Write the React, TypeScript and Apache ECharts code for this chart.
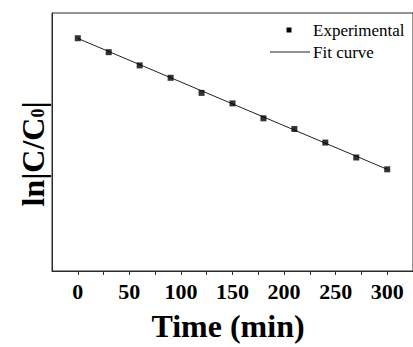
import React, { useEffect, useRef } from "react";
import * as echarts from "echarts";

const timeMin = [0, 30, 60, 90, 120, 150, 180, 210, 240, 270, 300];
const lnValues = [0.018, -0.055, -0.124, -0.189, -0.268, -0.323, -0.401, -0.457, -0.528, -0.606, -0.668];
const fitX = [0, 300];
const fitY = [0.017, -0.668];
const xTickLabels = [0, 50, 100, 150, 200, 250, 300];

const SERIF = "'Liberation Serif', 'Times New Roman', serif";

export default function App() {
  const ref = useRef<HTMLDivElement>(null);
  useEffect(() => {
    document.body.style.margin = "0";
    const chart = echarts.init(ref.current!, null, { renderer: "svg" });
    chart.setOption({
      animation: false,
      backgroundColor: "#ffffff",
      grid: {
        left: 52,
        top: 13,
        right: -2,
        bottom: 64,
        show: true,
        borderColor: "#2a2a2a",
        borderWidth: 1,
        backgroundColor: "transparent",
      },
      xAxis: {
        type: "value",
        min: -25,
        max: 325,
        interval: 25,
        name: "Time (min)",
        nameLocation: "middle",
        nameGap: 39,
        nameTextStyle: { fontFamily: SERIF, fontWeight: "bold", fontSize: 32, color: "#000", padding: [0, 9, 0, 0] },
        axisLine: { show: true, onZero: false, lineStyle: { color: "#2a2a2a", width: 1 } },
        axisTick: {
          show: true,
          length: 4,
          lineStyle: { color: "#2a2a2a", width: 1 },
        },
        axisLabel: {
          margin: 9,
          fontFamily: SERIF,
          fontWeight: "bold",
          fontSize: 22,
          color: "#000",
          showMinLabel: false,
          showMaxLabel: false,
          formatter: (v: number) => (xTickLabels.indexOf(v) >= 0 ? String(v) : ""),
        },
        splitLine: { show: false },
      },
      yAxis: {
        type: "value",
        min: -1.2,
        max: 0.15,
        name: "{a|ln|C/C}{b|0}{a||}",
        nameLocation: "middle",
        nameGap: 5,
        nameTextStyle: {
          padding: [0, 24, 0, 0],
          rich: {
            a: { fontFamily: SERIF, fontWeight: "bold", fontSize: 32, lineHeight: 30, verticalAlign: "top", color: "#000" },
            b: { fontFamily: SERIF, fontWeight: "bold", fontSize: 18, lineHeight: 18, verticalAlign: "bottom", padding: [16, 0, 0, 0], color: "#000" },
          },
        },
        axisLine: { show: true, onZero: false, lineStyle: { color: "#2a2a2a" } },
        axisTick: { show: false },
        axisLabel: { show: false },
        splitLine: { show: false },
      },
      graphic: [
        { type: "rect", shape: { x: 286.5, y: 27.5, width: 5, height: 5 }, style: { fill: "#000" } },
        {
          type: "text",
          x: 313,
          y: 30,
          style: { text: "Experimental", fontFamily: SERIF, fontSize: 17, fill: "#000", verticalAlign: "middle", align: "left" },
        },
        { type: "line", shape: { x1: 270, y1: 52, x2: 310, y2: 52 }, style: { stroke: "#222", lineWidth: 1 } },
        {
          type: "text",
          x: 313,
          y: 52,
          style: { text: "Fit curve", fontFamily: SERIF, fontSize: 17, fill: "#000", verticalAlign: "middle", align: "left" },
        },
      ],
      series: [
        {
          name: "Fit curve",
          type: "line",
          data: fitX.map((x, i) => [x, fitY[i]]),
          showSymbol: false,
          lineStyle: { color: "#222", width: 1 },
          z: 2,
        },
        {
          name: "Experimental",
          type: "scatter",
          data: timeMin.map((t, i) => [t, lnValues[i]]),
          symbol: "rect",
          symbolSize: 6,
          itemStyle: { color: "#000" },
          z: 3,
        },
      ],
    });
    return () => chart.dispose();
  }, []);
  return <div ref={ref} style={{ width: 413, height: 347 }} />;
}
